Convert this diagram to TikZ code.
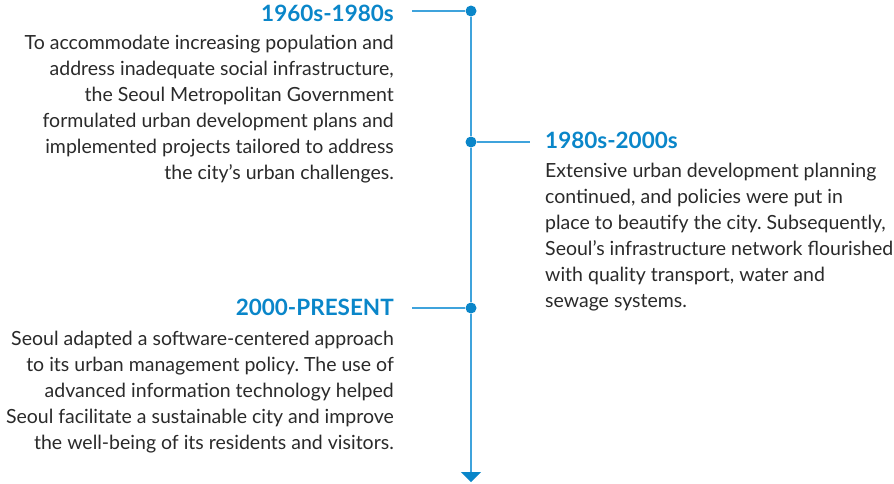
\documentclass[tikz,border=0pt]{standalone}
\usepackage{fontspec}
\setmainfont{Lato}
\usetikzlibrary{arrows.meta}
\definecolor{tlblue}{HTML}{0A86C9}
\definecolor{tlline}{HTML}{3FA3DC}
\definecolor{tltext}{HTML}{2A2A2A}
\tikzset{
	period/.style={font=\fontsize{22.5}{26}\selectfont\bfseries,text=tlblue,inner sep=0pt},
	story/.style={font=\fontsize{19.5}{26}\selectfont\frenchspacing,text=tltext,inner sep=0pt},
	dot/.style={circle,fill=tlblue,minimum size=11pt,inner sep=0pt},
	tick/.style={draw=tlline,line width=1.2pt},
}
\begin{document}
\begin{tikzpicture}[x=1pt,y=-1pt]
		\useasboundingbox (0,0) rectangle (894,483);
		\node [dot] (d1) at (471,11) {};
		\node [dot] (d2) at (471,142) {};
		\node [dot] (d3) at (471,308) {};
		\coordinate (e1) at (412,11);
		\coordinate (e2) at (530,142);
		\coordinate (e3) at (412,308);
		\coordinate (end) at (471,482);
		\draw [tick] (d1) to (e1);
		\draw [tick] (d2) to (e2);
		\draw [tick] (d3) to (e3);
		\draw [tick] (d1) to (d2);
		\draw [tick] (d2) to (d3);
		\draw [tick,-{Triangle[width=20pt,length=10pt,color=tlblue,fill=tlblue]}] (d3) to (end);
		\node [period,anchor=base east] (p1) at (394,21) {1960s-1980s};
		\node [period,anchor=base west] (p2) at (545,148) {1980s-2000s};
		\node [period,anchor=base east] (p3) at (394,315) {2000-PRESENT};
		\node [story,anchor=north east,align=right] (s1) at (394,34.5) {To accommodate increasing population and\\address inadequate social infrastructure,\\the Seoul Metropolitan Government\\formulated urban development plans and\\implemented projects tailored to address\\the city’s urban challenges.};
		\node [story,anchor=north west,align=left] (s2) at (545,162.5) {Extensive urban development planning\\continued, and policies were put in\\place to beautify the city. Subsequently,\\Seoul’s infrastructure network flourished\\with quality transport, water and\\sewage systems.};
		\node [story,anchor=north east,align=right] (s3) at (394,330.5) {Seoul adapted a software-centered approach\\to its urban management policy. The use of\\advanced information technology helped\\Seoul facilitate a sustainable city and improve\\the well-being of its residents and visitors.};
\end{tikzpicture}
\end{document}
